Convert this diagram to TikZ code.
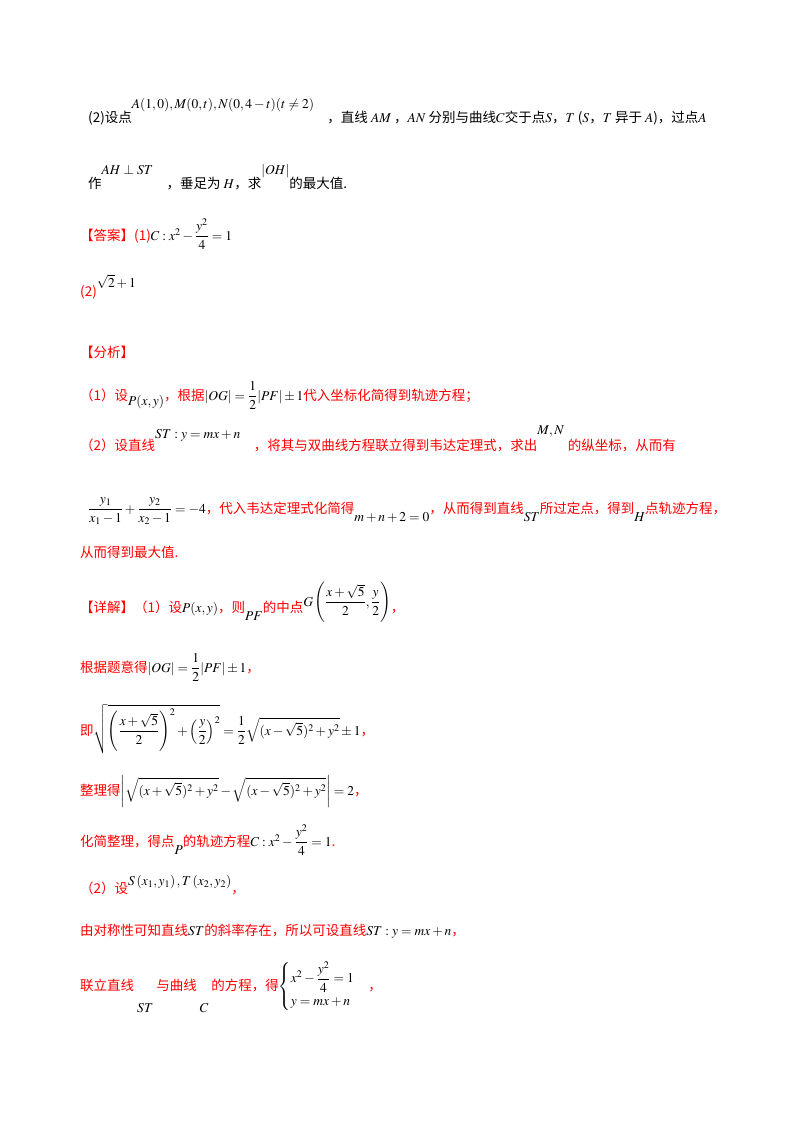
\documentclass[tikz,border=0pt]{standalone}
\usepackage{amsmath}
\usepackage{mathptmx}
\usepackage{fontspec}
\setmainfont{Noto Sans CJK SC}
\tikzset{ln/.style={anchor=base west,inner sep=0pt,font=\fontsize{13.5}{16}\selectfont}}
\newcommand{\bk}[1]{\textcolor{black}{#1}}
\newcommand{\up}[2]{\raisebox{#1}{#2}}
\begin{document}
\begin{tikzpicture}[x=1pt,y=-1pt]
\useasboundingbox (0,0) rectangle (800,1132);
\node[ln] (l1) at (88,122) {(2)设点\up{14pt}{$A(1,0),M(0,t),N(0,4-t)(t\ne2)$}\quad，直线 $AM$ ，$AN$ 分别与曲线$C$交于点$S$，$T$ ($S$，$T$ 异于 $A$)，过点$A$};
\node[ln] (l2) at (88,188) {作\up{14pt}{$AH\perp ST$}\quad，垂足为 $H$，求\up{14pt}{$|OH|$}的最大值.};
\node[ln,red] (l3) at (80,240) {【答案】(1)\bk{$C:x^2-\dfrac{y^2}{4}=1$}};
\node[ln,red] (l4) at (80,296) {(2)\bk{\up{9pt}{$\sqrt2+1$}}};
\node[ln,red] (l5) at (80,357) {【分析】};
\node[ln,red] (l6) at (80,400) {（1）设\bk{\up{-5pt}{$P(x,y)$}}，根据\bk{$|OG|=\dfrac12|PF|\pm1$}代入坐标化简得到轨迹方程；};
\node[ln,red] (l7) at (80,450) {（2）设直线\bk{\up{12pt}{$ST:y=mx+n$}}\quad，将其与双曲线方程联立得到韦达定理式，求出\bk{\up{16pt}{$M,N$}}\;的纵坐标，从而有};
\node[ln,red] (l8) at (88,513) {\bk{$\dfrac{y_1}{x_1-1}+\dfrac{y_2}{x_2-1}=-4$}，代入韦达定理式化简得\bk{\up{-8pt}{$m+n+2=0$}}，从而得到直线\bk{\up{-8pt}{$ST$}}所过定点，得到\bk{\up{-8pt}{$H$}}点轨迹方程，};
\node[ln,red] (l9) at (80,557) {从而得到最大值.};
\node[ln,red] (l10) at (80,612) {【详解】（1）设\bk{$P(x,y)$}，则\bk{\up{-8pt}{$PF$}}的中点\bk{\up{6pt}{$G\left(\dfrac{x+\sqrt5}{2},\dfrac y2\right)$}}，};
\node[ln,red] (l11) at (80,672) {根据题意得\bk{$|OG|=\dfrac12|PF|\pm1$}，};
\node[ln,red] (l12) at (80,735) {即\bk{$\sqrt{\left(\dfrac{x+\sqrt5}{2}\right)^2+\left(\dfrac y2\right)^2}=\dfrac12\sqrt{(x-\sqrt5)^2+y^2}\pm1$}，};
\node[ln,red] (l13) at (80,795) {整理得\bk{$\left|\sqrt{(x+\sqrt5)^2+y^2}-\sqrt{(x-\sqrt5)^2+y^2}\right|=2$}，};
\node[ln,red] (l14) at (80,846) {化简整理，得点\bk{\up{-8pt}{$P$}}的轨迹方程\bk{$C:x^2-\dfrac{y^2}{4}=1$}.};
\node[ln,red] (l15) at (80,893) {（2）设\bk{\up{8pt}{$S\left(x_1,y_1\right),T\left(x_2,y_2\right)$}}，};
\node[ln,red] (l16) at (80,935) {由对称性可知直线\bk{$ST$}的斜率存在，所以可设直线\bk{$ST:y=mx+n$}，};
\node[ln,red] (l17) at (80,990) {联立直线\bk{\up{-22pt}{$\;ST\;$}}与曲线\bk{\up{-22pt}{$\;C\;$}}的方程，得\bk{$\begin{cases}x^2-\dfrac{y^2}{4}=1\\ y=mx+n\end{cases}$}，};
\end{tikzpicture}
\end{document}
